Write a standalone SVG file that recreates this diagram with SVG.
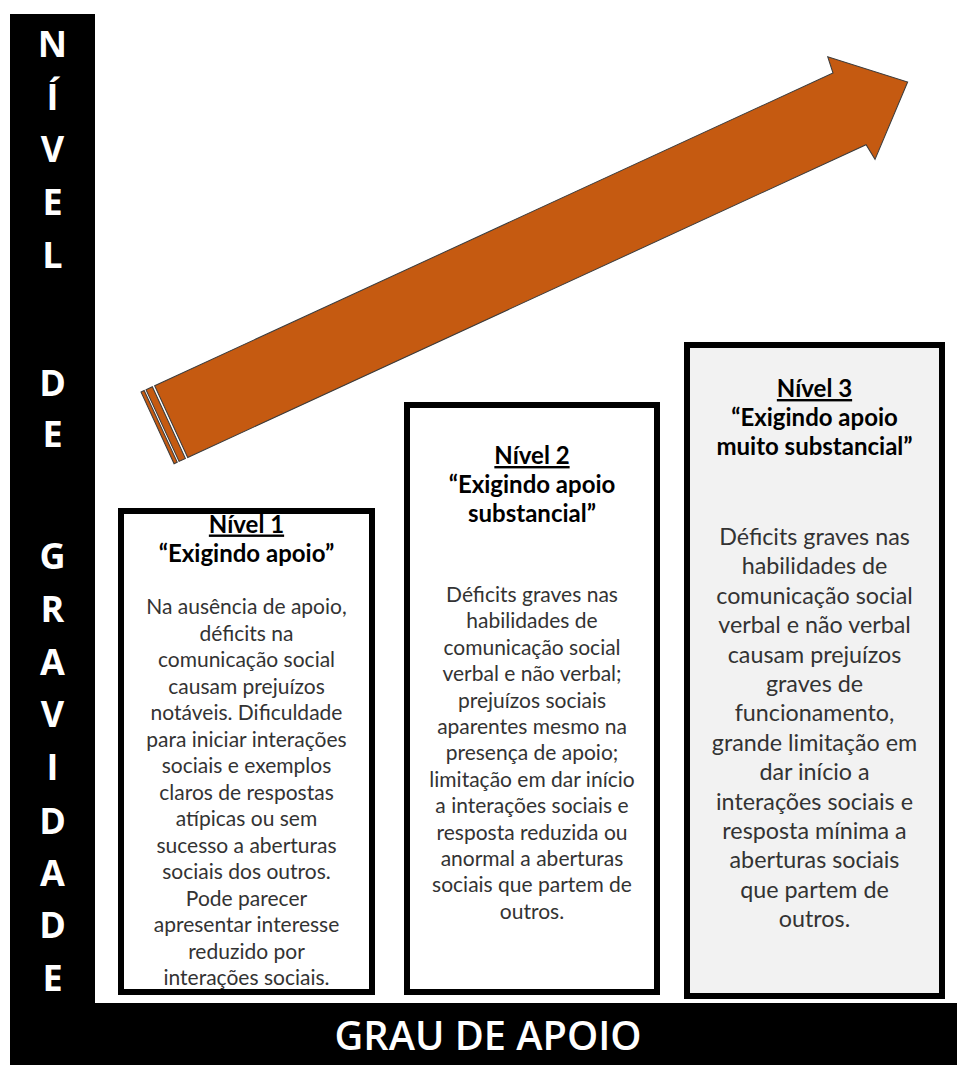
<svg xmlns="http://www.w3.org/2000/svg" width="957" height="1065" viewBox="0 0 957 1065">
<style>
.bar{fill:#000}
.vl{font-family:"Open Sans","DejaVu Sans",sans-serif;font-weight:700;font-size:36px;fill:#fff;text-anchor:middle}
.axis{font-family:"Open Sans","DejaVu Sans",sans-serif;font-weight:600;font-size:40px;fill:#fff;text-anchor:middle}
.box{stroke:#000;stroke-width:6}
.ttl{font-family:"Lato","Liberation Sans",sans-serif;font-weight:700;font-size:24px;fill:#000;text-anchor:middle}
.body{font-family:"Lato","Liberation Sans",sans-serif;font-size:21px;fill:#333;text-anchor:middle}
.body3{font-family:"Lato","Liberation Sans",sans-serif;font-size:23.3px;fill:#333;text-anchor:middle}
.arr{fill:#C55A11;stroke:#3b3b3b;stroke-width:1}
</style>
<rect width="957" height="1065" fill="#fff"/>
<g id="axis-vertical">
<rect class="bar" x="10" y="14" width="85" height="1051"/>
<text class="vl" x="52.5" y="57">N</text>
<text class="vl" x="52.5" y="110">Í</text>
<text class="vl" x="52.5" y="162">V</text>
<text class="vl" x="52.5" y="215">E</text>
<text class="vl" x="52.5" y="268">L</text>
<text class="vl" x="52.5" y="396">D</text>
<text class="vl" x="52.5" y="447">E</text>
<text class="vl" x="52.5" y="569">G</text>
<text class="vl" x="52.5" y="622">R</text>
<text class="vl" x="52.5" y="675">A</text>
<text class="vl" x="52.5" y="727">V</text>
<text class="vl" x="52.5" y="780">I</text>
<text class="vl" x="52.5" y="834">D</text>
<text class="vl" x="52.5" y="886">A</text>
<text class="vl" x="52.5" y="938">D</text>
<text class="vl" x="52.5" y="991">E</text>
</g>
<g id="axis-horizontal">
<rect class="bar" x="10" y="1003" width="947" height="62"/>
<text class="axis" x="488" y="1050" textLength="307" lengthAdjust="spacingAndGlyphs">GRAU DE APOIO</text>
</g>
<g id="connectors">
<g id="arrow" transform="translate(141,392) rotate(-24.75)">
<rect class="arr" x="0" y="0" width="3.5" height="79"/>
<rect class="arr" x="5.5" y="0" width="7" height="79"/>
<polygon class="arr" points="15,0 762,0 764,-17 826,39.5 764,96 762,79 15,79"/>
</g>
</g>
<g id="nivel1">
<rect class="box" x="121" y="511" width="251" height="481" fill="#fff"/>
<text class="ttl" x="246.5" y="532.5" text-decoration="underline">Nível 1</text>
<text class="ttl" x="246.5" y="562">“Exigindo apoio”</text>
<text class="body" x="246.5" y="614">Na ausência de apoio,</text>
<text class="body" x="246.5" y="640.5">déficits na</text>
<text class="body" x="246.5" y="667">comunicação social</text>
<text class="body" x="246.5" y="693.5">causam prejuízos</text>
<text class="body" x="246.5" y="720">notáveis. Dificuldade</text>
<text class="body" x="246.5" y="746.5">para iniciar interações</text>
<text class="body" x="246.5" y="773">sociais e exemplos</text>
<text class="body" x="246.5" y="799.5">claros de respostas</text>
<text class="body" x="246.5" y="826">atípicas ou sem</text>
<text class="body" x="246.5" y="852.5">sucesso a aberturas</text>
<text class="body" x="246.5" y="879">sociais dos outros.</text>
<text class="body" x="246.5" y="905.5">Pode parecer</text>
<text class="body" x="246.5" y="932">apresentar interesse</text>
<text class="body" x="246.5" y="958.5">reduzido por</text>
<text class="body" x="246.5" y="985">interações sociais.</text>
</g>
<g id="nivel2">
<rect class="box" x="407" y="405" width="250" height="587" fill="#fff"/>
<text class="ttl" x="532" y="464" text-decoration="underline">Nível 2</text>
<text class="ttl" x="532" y="493">“Exigindo apoio</text>
<text class="ttl" x="532" y="522">substancial”</text>
<text class="body" x="532" y="602">Déficits graves nas</text>
<text class="body" x="532" y="628.4">habilidades de</text>
<text class="body" x="532" y="654.8">comunicação social</text>
<text class="body" x="532" y="681.2">verbal e não verbal;</text>
<text class="body" x="532" y="707.6">prejuízos sociais</text>
<text class="body" x="532" y="734">aparentes mesmo na</text>
<text class="body" x="532" y="760.4">presença de apoio;</text>
<text class="body" x="532" y="786.8">limitação em dar início</text>
<text class="body" x="532" y="813.2">a interações sociais e</text>
<text class="body" x="532" y="839.6">resposta reduzida ou</text>
<text class="body" x="532" y="866">anormal a aberturas</text>
<text class="body" x="532" y="892.4">sociais que partem de</text>
<text class="body" x="532" y="918.8">outros.</text>
</g>
<g id="nivel3">
<rect class="box" x="687" y="345" width="255" height="651" fill="#f2f2f2"/>
<text class="ttl" x="814.5" y="397" text-decoration="underline">Nível 3</text>
<text class="ttl" x="814.5" y="426">“Exigindo apoio</text>
<text class="ttl" x="814.5" y="455">muito substancial”</text>
<text class="body3" x="814.5" y="545">Déficits graves nas</text>
<text class="body3" x="814.5" y="574.4">habilidades de</text>
<text class="body3" x="814.5" y="603.8">comunicação social</text>
<text class="body3" x="814.5" y="633.2">verbal e não verbal</text>
<text class="body3" x="814.5" y="662.6">causam prejuízos</text>
<text class="body3" x="814.5" y="692">graves de</text>
<text class="body3" x="814.5" y="721.4">funcionamento,</text>
<text class="body3" x="814.5" y="750.8">grande limitação em</text>
<text class="body3" x="814.5" y="780.2">dar início a</text>
<text class="body3" x="814.5" y="809.6">interações sociais e</text>
<text class="body3" x="814.5" y="839">resposta mínima a</text>
<text class="body3" x="814.5" y="868.4">aberturas sociais</text>
<text class="body3" x="814.5" y="897.8">que partem de</text>
<text class="body3" x="814.5" y="927.2">outros.</text>
</g>
</svg>
